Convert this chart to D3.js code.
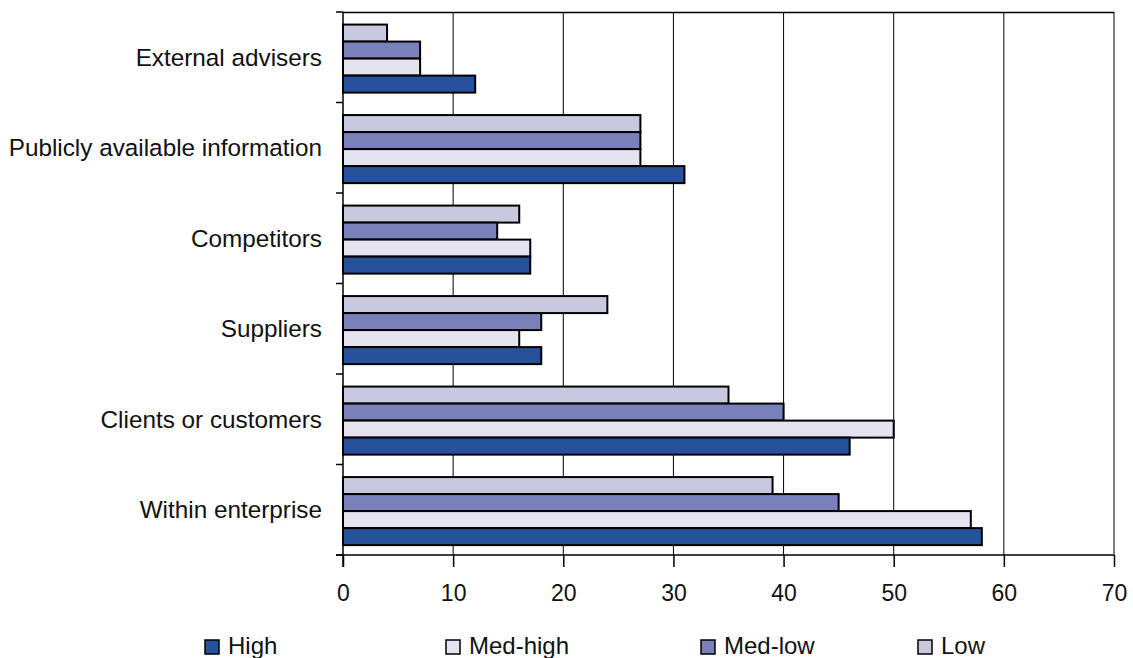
<!DOCTYPE html>
<html>
<head>
<meta charset="utf-8">
<script src="https://cdn.jsdelivr.net/npm/d3@7"></script>
<style>
  html, body { margin: 0; padding: 0; background: #fff; }
  svg { display: block; font-family: "Liberation Sans", Arial, sans-serif; }
</style>
</head>
<body>
<svg id="chart" width="1133" height="658"></svg>
<script>
// Sources of information, share of enterprises (%) by group
const categories = [
  "External advisers",
  "Publicly available information",
  "Competitors",
  "Suppliers",
  "Clients or customers",
  "Within enterprise"
];
const seriesNames = ["High", "Med-high", "Med-low", "Low"];
const high    = [12, 31, 17, 18, 46, 58];
const medHigh = [7, 27, 17, 16, 50, 57];
const medLow  = [7, 27, 14, 18, 40, 45];
const low     = [4, 27, 16, 24, 35, 39];
const xTicks  = [0, 10, 20, 30, 40, 50, 60, 70];

const seriesValues = { "High": high, "Med-high": medHigh, "Med-low": medLow, "Low": low };
const colors = { "High": "#26529b", "Med-high": "#e4e3ef", "Med-low": "#7a80b9", "Low": "#c8c8e0" };

const W = 1133, H = 658;
const margin = { top: 12, right: 19, bottom: 103, left: 343 };
const iw = W - margin.left - margin.right;
const ih = H - margin.top - margin.bottom;

const svg = d3.select("#chart");
const g = svg.append("g").attr("transform", `translate(${margin.left},${margin.top})`);

const x = d3.scaleLinear().domain([0, 70]).range([0, iw]);
const y0 = d3.scaleBand().domain(categories).range([0, ih]).padding(0);
// bars stacked top-to-bottom: Low, Med-low, Med-high, High
const barOrder = ["Low", "Med-low", "Med-high", "High"];
const y1 = d3.scaleBand().domain(barOrder).range([0, y0.bandwidth()])
  .paddingInner(0).paddingOuter(0.66).align(0.56);

// vertical gridlines
g.append("g").selectAll("line").data(xTicks.slice(1)).join("line")
  .attr("x1", d => x(d)).attr("x2", d => x(d))
  .attr("y1", 0).attr("y2", ih)
  .attr("stroke", "#000").attr("stroke-width", 1);

// top border
g.append("line").attr("x1", 0).attr("x2", iw).attr("y1", 0.5).attr("y2", 0.5)
  .attr("stroke", "#000").attr("stroke-width", 1.5);

// bars
const rows = categories.map((c, i) => ({ cat: c, vals: barOrder.map(s => ({ s, v: seriesValues[s][i] })) }));
const groups = g.append("g").selectAll("g").data(rows).join("g")
  .attr("transform", d => `translate(0,${y0(d.cat)})`);
groups.selectAll("rect").data(d => d.vals).join("rect")
  .attr("x", x(0))
  .attr("y", d => y1(d.s))
  .attr("width", d => x(d.v) - x(0))
  .attr("height", y1.bandwidth())
  .attr("fill", d => colors[d.s])
  .attr("stroke", "#000")
  .attr("stroke-width", 2);

// x axis
const xAxis = g.append("g").attr("transform", `translate(0,${ih})`)
  .call(d3.axisBottom(x).tickValues(xTicks).tickSize(12).tickPadding(16));
xAxis.select(".domain").attr("stroke-width", 1.5).attr("d", `M-7,0H${iw}`);
xAxis.selectAll(".tick line").attr("stroke-width", 1.5);
xAxis.selectAll("text").attr("font-size", 23).attr("fill", "#111").attr("dy", "0.8em");

// y axis: tick marks at category boundaries, labels at band centres
const yAxisG = g.append("g");
yAxisG.append("line").attr("x1", 0).attr("x2", 0).attr("y1", 0).attr("y2", ih + 12)
  .attr("stroke", "#000").attr("stroke-width", 1.5);
const bounds = categories.map(c => y0(c)).concat([ih]);
yAxisG.selectAll("line.b").data(bounds).join("line").attr("class", "b")
  .attr("x1", -7).attr("x2", 0).attr("y1", d => d).attr("y2", d => d)
  .attr("stroke", "#000").attr("stroke-width", 1.5);
yAxisG.selectAll("text").data(categories).join("text")
  .attr("x", -21)
  .attr("y", d => y0(d) + y0.bandwidth() / 2)
  .attr("dy", "0.35em")
  .attr("text-anchor", "end")
  .attr("font-size", 24.3)
  .attr("fill", "#111")
  .text(d => d);

// legend
const legendX = { "High": 205, "Med-high": 446, "Med-low": 701, "Low": 918 };
const leg = svg.append("g").attr("transform", "translate(0,640)");
const li = leg.selectAll("g").data(seriesNames).join("g")
  .attr("transform", d => `translate(${legendX[d]},0)`);
li.append("rect").attr("x", 0).attr("y", 0).attr("width", 14).attr("height", 14)
  .attr("fill", d => colors[d]).attr("stroke", "#000").attr("stroke-width", 1.5);
li.append("text").attr("x", 23).attr("y", 14)
  .attr("font-size", 24).attr("fill", "#111").text(d => d);
</script>
</body>
</html>
